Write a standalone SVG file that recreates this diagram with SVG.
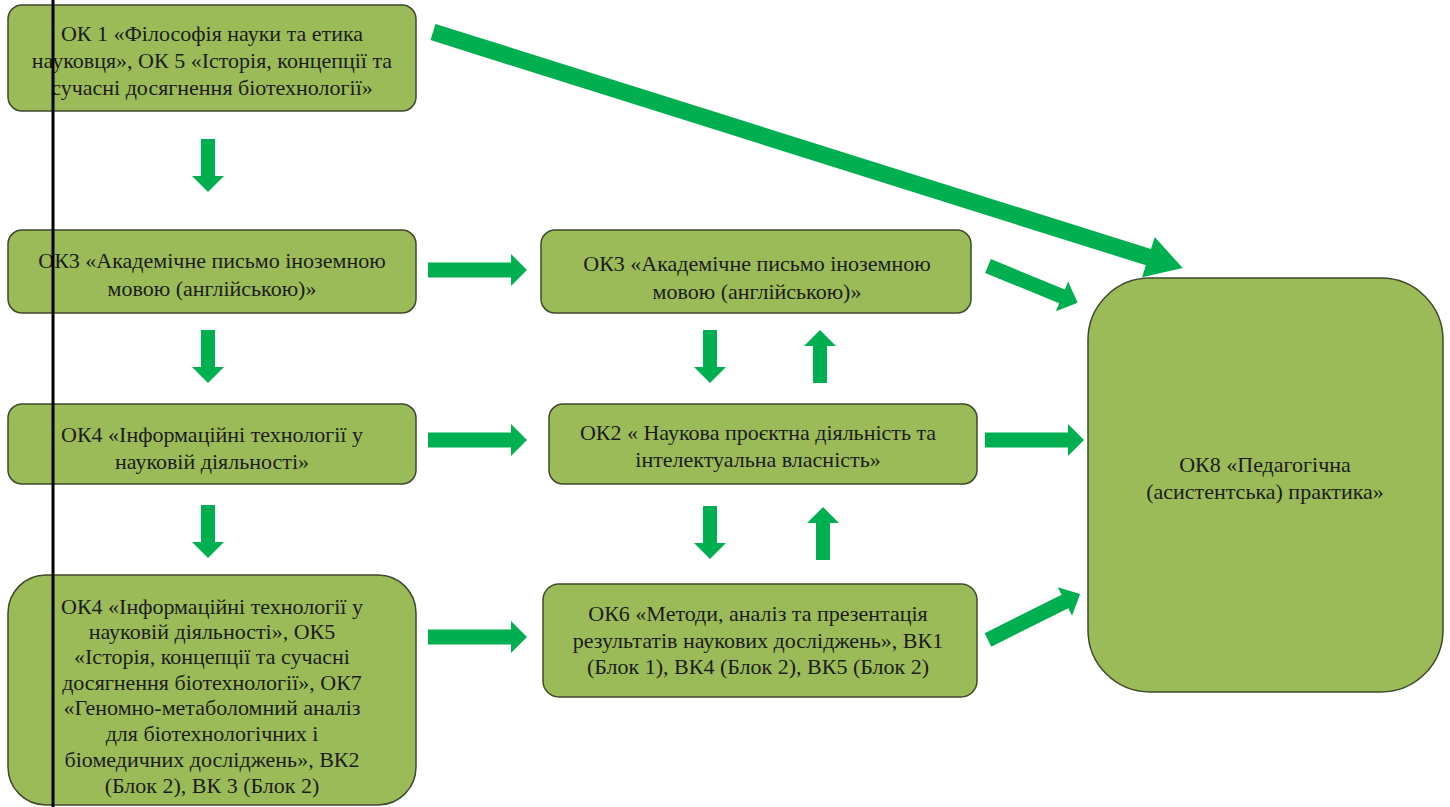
<svg xmlns="http://www.w3.org/2000/svg" width="1450" height="807" viewBox="0 0 1450 807">
<style>
.box{fill:#9bbb59;stroke:#3f4a2c;stroke-width:1.5}
.t{font-family:"Liberation Serif", serif;font-size:22px;fill:#1c1c1c;text-anchor:middle}
.arr{fill:#00b050}
</style>
<defs>
<polygon id="down" points="-7,0 7,0 7,37 16,37 0,53 -16,37 -7,37"/>
<polygon id="right" points="0,-7.5 83,-7.5 83,-16 99,0 83,16 83,7.5 0,7.5"/>
</defs>
<rect width="1450" height="807" fill="#ffffff"/>
<g id="connectors" class="arr">
<use href="#down" x="208" y="139"/>
<use href="#down" x="208" y="330"/>
<use href="#down" x="208" y="505"/>
<use href="#right" x="428" y="270"/>
<use href="#right" x="428" y="440"/>
<use href="#right" x="428" y="637"/>
<use href="#down" x="710" y="330"/>
<use href="#down" x="710" y="506"/>
<use href="#down" x="0" y="0" transform="translate(820,383) rotate(180)"/>
<use href="#down" x="0" y="0" transform="translate(823,560) rotate(180)"/>
<use href="#right" x="985" y="440"/>
<polygon transform="translate(988,266) rotate(22.3)" points="0,-7.5 80,-7.5 80,-16 97,0 80,16 80,7.5 0,7.5"/>
<polygon transform="translate(988,640) rotate(-26.6)" points="0,-7.5 86,-7.5 86,-16 103,0 86,16 86,7.5 0,7.5"/>
<polygon transform="translate(433,32) rotate(17.47)" points="0,-8.5 750,-8.5 750,-21 786,0 750,21 750,8.5 0,8.5"/>
</g>
<g id="n1">
<rect class="box" x="8" y="5" width="408" height="106" rx="14"/>
<text class="t" x="212" y="41">ОК 1 «Філософія науки та етика</text>
<text class="t" x="212" y="68">науковця», ОК 5 «Історія, концепції та</text>
<text class="t" x="212" y="95">сучасні досягнення біотехнології»</text>
</g>
<g id="n2">
<rect class="box" x="8" y="230" width="408" height="83" rx="14"/>
<text class="t" x="212" y="268">ОК3 «Академічне письмо іноземною</text>
<text class="t" x="212" y="296">мовою (англійською)»</text>
</g>
<g id="n3">
<rect class="box" x="8" y="404" width="408" height="80" rx="14"/>
<text class="t" x="212" y="442">ОК4 «Інформаційні технології у</text>
<text class="t" x="212" y="469">науковій діяльності»</text>
</g>
<g id="n4">
<rect class="box" x="8" y="575" width="408" height="230" rx="38"/>
<text class="t" x="212" y="614">ОК4 «Інформаційні технології у</text>
<text class="t" x="212" y="639">науковій діяльності», ОК5</text>
<text class="t" x="212" y="664">«Історія, концепції та сучасні</text>
<text class="t" x="212" y="690">досягнення біотехнології»,  ОК7</text>
<text class="t" x="212" y="715">«Геномно-метаболомний аналіз</text>
<text class="t" x="212" y="741">для біотехнологічних і</text>
<text class="t" x="212" y="767">біомедичних досліджень», ВК2</text>
<text class="t" x="212" y="793">(Блок 2), ВК 3 (Блок 2)</text>
</g>
<g id="n5">
<rect class="box" x="541" y="230" width="430" height="83" rx="14"/>
<text class="t" x="757" y="271">ОК3 «Академічне письмо іноземною</text>
<text class="t" x="757" y="299">мовою (англійською)»</text>
</g>
<g id="n6">
<rect class="box" x="549" y="404" width="428" height="80" rx="14"/>
<text class="t" x="758" y="440">ОК2 « Наукова проєктна діяльність та</text>
<text class="t" x="758" y="467">інтелектуальна власність»</text>
</g>
<g id="n7">
<rect class="box" x="543" y="584" width="434" height="113" rx="16"/>
<text class="t" x="758" y="621">ОК6 «Методи, аналіз та презентація</text>
<text class="t" x="758" y="648">результатів наукових досліджень», ВК1</text>
<text class="t" x="758" y="674">(Блок 1), ВК4 (Блок 2), ВК5 (Блок 2)</text>
</g>
<g id="n8">
<rect class="box" x="1088" y="278" width="355" height="414" rx="62"/>
<text class="t" x="1265" y="472">ОК8 «Педагогічна</text>
<text class="t" x="1265" y="499">(асистентська) практика»</text>
</g>
<line id="vline" x1="53" y1="0" x2="53" y2="807" stroke="#000000" stroke-width="3"/>
</svg>
